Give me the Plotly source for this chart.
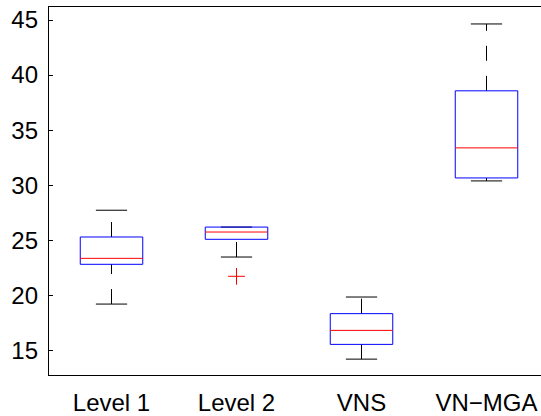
import plotly.graph_objects as go

categories = ["Level 1", "Level 2", "VNS", "VN\u2212MGA"]
lower_whisker = [19.21, 23.48, 14.21, 30.39]
q1 = [22.82, 25.09, 15.55, 30.66]
median = [23.36, 25.75, 16.82, 33.39]
q3 = [25.30, 26.20, 18.34, 38.57]
upper_whisker = [27.73, 26.20, 19.85, 44.64]
outlier_group = [2]
outlier_value = [21.73]
y_ticks = [15, 20, 25, 30, 35, 40, 45]

BOX_HALF = 0.25
CAP_HALF = 0.125

fig = go.Figure()
positions = list(range(1, len(categories) + 1))

for i, c in enumerate(positions):
    # whiskers (dashed), drawn from lower value to higher value
    fig.add_trace(go.Scatter(x=[c, c], y=[lower_whisker[i], q1[i]], mode="lines",
                             line=dict(color="black", width=1, dash="15px,15px"),
                             hoverinfo="skip", showlegend=False))
    fig.add_trace(go.Scatter(x=[c, c], y=[q3[i], upper_whisker[i]], mode="lines",
                             line=dict(color="black", width=1, dash="15px,15px"),
                             hoverinfo="skip", showlegend=False))
    # caps
    for v in (lower_whisker[i], upper_whisker[i]):
        fig.add_trace(go.Scatter(x=[c - CAP_HALF, c + CAP_HALF], y=[v, v], mode="lines",
                                 line=dict(color="black", width=1),
                                 hoverinfo="skip", showlegend=False))
    # box
    fig.add_trace(go.Scatter(x=[c - BOX_HALF, c + BOX_HALF, c + BOX_HALF, c - BOX_HALF, c - BOX_HALF],
                             y=[q1[i], q1[i], q3[i], q3[i], q1[i]], mode="lines",
                             line=dict(color="#0000ff", width=1),
                             hoverinfo="skip", showlegend=False))
    # median
    fig.add_trace(go.Scatter(x=[c - BOX_HALF, c + BOX_HALF], y=[median[i], median[i]], mode="lines",
                             line=dict(color="#ff0000", width=1),
                             hoverinfo="skip", showlegend=False))

fig.add_trace(go.Scatter(x=outlier_group, y=outlier_value, mode="markers",
                         marker=dict(symbol="cross-thin", size=12,
                                     line=dict(color="#ff0000", width=1)),
                         hoverinfo="skip", showlegend=False))

fig.update_layout(
    width=541, height=416,
    margin=dict(l=49, r=0, t=7, b=41),
    plot_bgcolor="white", paper_bgcolor="white",
    font=dict(family="Liberation Sans, Arial, sans-serif", size=24, color="black"),
    showlegend=False,
)
fig.update_xaxes(range=[0.5, 4.436], tickmode="array", tickvals=positions, ticktext=categories,
                 ticks="", showgrid=False, zeroline=False, showline=True, automargin=False,
                 ticklabeloverflow="allow",
                 linecolor="black", linewidth=1.3, mirror=True, ticklabelstandoff=6)
fig.update_yaxes(range=[12.77, 46.18], tickmode="array", tickvals=y_ticks, automargin=False,
                 ticklabeloverflow="allow",
                 ticks="inside", ticklen=4, tickcolor="black", showgrid=False, zeroline=False,
                 showline=True, linecolor="black", linewidth=1.3, ticklabelstandoff=5)

# remove the browser's default 8px body margin so the figure fills the window
fig.write_html("out.html", config={"displayModeBar": False},
               post_script="document.body.style.margin='0';")
